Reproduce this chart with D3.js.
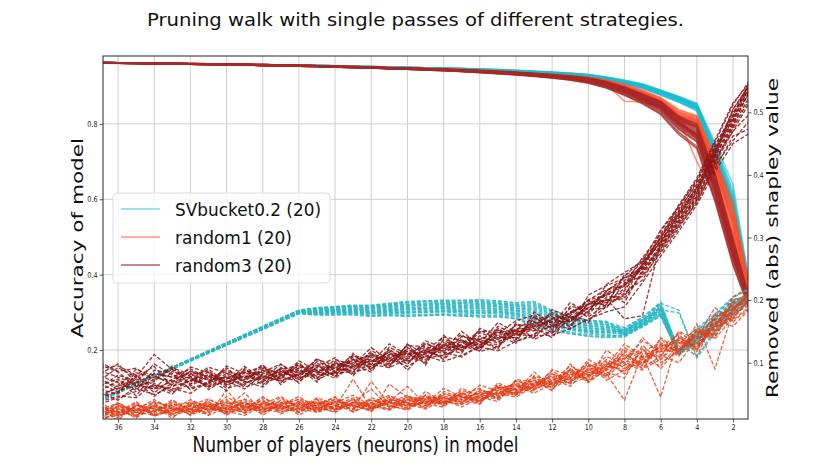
<!DOCTYPE html>
<html>
<head>
<meta charset="utf-8">
<script src="https://cdn.jsdelivr.net/npm/d3@7"></script>
<style>
  body { margin: 0; background: #fff; }
  text { font-family: "DejaVu Sans", sans-serif; }
</style>
</head>
<body>
<svg id="chart" width="831" height="472"></svg>
<script>
// number of players left in the model at each step
var xsRandom = [37,36,35,34,33,32,31,30,29,28,27,26,25,24,23,22,21,20,19,18,17,16,15,14,13,12,11,10,9,8,7,6,5,4,3,2,1];
var xsBucket = [37,26,25,24,23,22,21,20,19,18,17,16,15,14,13,12,11,10,9,8,7,6,5,4,3,2,1];

var xTicks = [36,34,32,30,28,26,24,22,20,18,16,14,12,10,8,6,4,2];
var accTicks = [0.2,0.4,0.6,0.8];
var svTicks = [0.1,0.2,0.3,0.4,0.5];

var legendLabels = ["SVbucket0.2 (20)", "random1 (20)", "random3 (20)"];

// accuracy of model, SVbucket0.2 runs (x = xsBucket)
var bucketAcc = [
  [.963,.955,.954,.953,.952,.951,.950,.949,.948,.947,.946,.944,.942,.940,.938,.935,.932,.928,.921,.911,.901,.884,.866,.846,.725,.590,.335],
  [.962,.955,.954,.953,.952,.951,.950,.949,.948,.946,.945,.943,.941,.939,.936,.933,.930,.926,.918,.908,.897,.880,.861,.840,.712,.570,.328],
  [.963,.956,.955,.954,.953,.952,.951,.950,.949,.948,.947,.945,.943,.941,.939,.937,.934,.930,.923,.914,.904,.888,.870,.851,.738,.610,.342],
  [.963,.955,.954,.953,.952,.951,.950,.949,.947,.946,.945,.943,.941,.939,.937,.934,.931,.927,.920,.910,.899,.882,.864,.843,.718,.580,.332],
  [.962,.955,.954,.953,.952,.950,.949,.948,.947,.946,.944,.942,.940,.938,.936,.933,.929,.925,.917,.906,.895,.877,.858,.836,.705,.545,.322],
  [.963,.956,.955,.954,.953,.952,.951,.950,.949,.948,.947,.946,.944,.942,.940,.937,.934,.931,.924,.915,.905,.889,.872,.853,.745,.625,.348],
  [.963,.955,.954,.953,.952,.951,.950,.949,.948,.947,.946,.944,.942,.940,.938,.935,.932,.928,.921,.912,.902,.885,.867,.848,.728,.595,.336],
  [.962,.955,.954,.953,.951,.950,.949,.948,.947,.946,.945,.943,.941,.939,.937,.934,.930,.926,.919,.909,.898,.881,.862,.841,.715,.565,.327],
  [.963,.956,.955,.954,.953,.952,.951,.950,.949,.948,.947,.945,.943,.941,.939,.936,.933,.929,.922,.913,.903,.887,.869,.850,.735,.605,.340],
  [.963,.955,.954,.953,.952,.951,.950,.949,.948,.947,.945,.943,.941,.939,.937,.934,.931,.927,.920,.910,.900,.883,.865,.845,.722,.585,.333],
  [.962,.955,.954,.952,.951,.950,.949,.948,.947,.945,.944,.942,.940,.938,.935,.932,.929,.924,.916,.905,.894,.876,.857,.834,.702,.540,.320],
  [.963,.956,.955,.954,.953,.952,.951,.950,.949,.948,.947,.945,.944,.942,.939,.937,.934,.930,.923,.914,.904,.888,.871,.852,.742,.618,.345],
  [.963,.955,.954,.953,.952,.951,.950,.949,.948,.947,.946,.944,.942,.940,.937,.935,.931,.928,.921,.911,.901,.884,.866,.847,.726,.592,.335],
  [.962,.955,.954,.953,.952,.951,.949,.948,.947,.946,.945,.943,.941,.939,.936,.933,.930,.926,.918,.908,.897,.880,.860,.839,.710,.560,.325],
  [.963,.956,.955,.954,.953,.952,.951,.950,.949,.948,.947,.946,.944,.942,.940,.938,.935,.931,.924,.916,.906,.890,.873,.855,.750,.640,.352],
  [.963,.955,.954,.953,.952,.951,.950,.949,.948,.947,.946,.944,.942,.940,.938,.935,.932,.928,.920,.911,.901,.884,.865,.846,.724,.588,.334],
  [.962,.955,.954,.953,.952,.950,.949,.948,.947,.946,.944,.942,.940,.938,.936,.933,.929,.925,.917,.907,.896,.878,.859,.838,.708,.555,.324],
  [.963,.956,.955,.954,.953,.952,.951,.950,.949,.948,.947,.945,.943,.941,.939,.936,.933,.930,.923,.913,.903,.887,.869,.850,.733,.602,.339],
  [.963,.955,.954,.953,.952,.951,.950,.949,.948,.947,.946,.944,.942,.940,.938,.935,.932,.928,.921,.912,.902,.885,.867,.848,.730,.598,.337],
  [.962,.955,.954,.953,.952,.951,.950,.949,.948,.946,.945,.943,.941,.939,.937,.934,.931,.927,.919,.909,.899,.882,.863,.842,.716,.575,.330]
];

// removed (abs) shapley value, SVbucket0.2 runs (x = xsBucket)
var bucketSv = [
  [.039,.178,.176,.176,.176,.174,.175,.174,.175,.176,.174,.173,.173,.170,.158,.150,.146,.142,.140,.141,.158,.178,.114,.135,.160,.182,.212],
  [.039,.179,.177,.177,.178,.176,.177,.176,.177,.178,.177,.176,.176,.173,.162,.153,.149,.145,.143,.144,.160,.190,.118,.146,.172,.198,.195],
  [.040,.179,.178,.179,.179,.178,.179,.179,.180,.181,.179,.179,.178,.175,.166,.157,.152,.147,.145,.142,.157,.174,.113,.130,.150,.176,.208],
  [.040,.180,.179,.180,.180,.179,.180,.180,.181,.182,.181,.180,.180,.177,.168,.159,.153,.149,.147,.150,.166,.192,.117,.150,.176,.204,.218],
  [.040,.180,.180,.180,.181,.179,.181,.181,.182,.183,.182,.181,.181,.178,.170,.160,.154,.150,.148,.146,.162,.183,.115,.138,.158,.186,.200],
  [.040,.180,.180,.181,.182,.180,.182,.182,.183,.184,.183,.183,.182,.179,.172,.162,.156,.151,.149,.152,.168,.196,.119,.142,.166,.195,.210],
  [.040,.180,.181,.182,.182,.181,.183,.184,.185,.186,.184,.184,.183,.180,.174,.164,.157,.152,.150,.145,.161,.180,.114,.133,.155,.180,.204],
  [.040,.181,.181,.182,.183,.182,.184,.185,.186,.187,.186,.186,.185,.182,.176,.165,.159,.154,.152,.149,.165,.186,.116,.144,.168,.192,.214],
  [.040,.181,.182,.183,.184,.183,.185,.186,.187,.188,.187,.187,.186,.183,.178,.167,.160,.155,.153,.147,.163,.188,.116,.140,.162,.190,.206],
  [.040,.181,.183,.184,.185,.184,.186,.187,.188,.189,.188,.188,.187,.184,.180,.169,.161,.156,.154,.151,.168,.185,.117,.147,.170,.200,.198],
  [.040,.182,.183,.184,.186,.185,.187,.188,.189,.190,.190,.190,.189,.186,.182,.170,.163,.158,.156,.148,.164,.182,.115,.136,.157,.184,.216],
  [.041,.182,.184,.185,.186,.186,.188,.190,.191,.192,.191,.191,.190,.187,.184,.172,.164,.159,.157,.153,.170,.194,.118,.152,.175,.202,.203],
  [.041,.182,.184,.186,.187,.187,.189,.191,.192,.193,.192,.193,.191,.188,.186,.174,.166,.160,.158,.144,.160,.176,.114,.132,.154,.178,.192],
  [.041,.182,.185,.186,.188,.188,.190,.192,.193,.194,.194,.194,.193,.190,.188,.176,.167,.162,.160,.150,.167,.190,.117,.145,.169,.196,.211],
  [.041,.183,.186,.187,.189,.188,.191,.193,.194,.195,.195,.195,.194,.191,.190,.177,.168,.163,.161,.155,.172,.197,.120,.155,.178,.205,.220],
  [.041,.183,.186,.188,.190,.189,.192,.194,.195,.196,.196,.197,.195,.192,.192,.179,.170,.164,.162,.146,.162,.179,.113,.137,.160,.188,.202],
  [.041,.183,.187,.189,.190,.190,.193,.196,.197,.198,.197,.198,.196,.193,.194,.181,.171,.166,.164,.152,.169,.187,.116,.142,.164,.193,.209],
  [.041,.184,.187,.189,.191,.191,.194,.197,.198,.199,.199,.199,.198,.195,.196,.182,.173,.167,.165,.156,.173,.195,.184,.107,.148,.183,.207],
  [.041,.184,.188,.190,.192,.192,.195,.198,.199,.200,.200,.201,.199,.196,.198,.184,.174,.168,.166,.149,.166,.184,.180,.110,.152,.181,.199],
  [.039,.179,.177,.178,.177,.175,.176,.175,.176,.177,.175,.175,.174,.171,.160,.152,.147,.143,.141,.143,.159,.176,.112,.139,.163,.189,.213]
];

// accuracy of model, random1 runs (x = xsRandom)
var random1Acc = [
  [.963,.962,.962,.961,.960,.960,.959,.958,.957,.957,.956,.955,.954,.953,.952,.950,.949,.948,.946,.945,.943,.941,.939,.936,.933,.930,.927,.922,.913,.901,.884,.862,.828,.812,.690,.540,.330],
  [.961,.961,.960,.959,.959,.958,.957,.957,.956,.955,.954,.953,.952,.951,.950,.949,.947,.946,.944,.943,.941,.938,.936,.933,.929,.925,.921,.915,.903,.889,.870,.848,.805,.795,.660,.500,.310],
  [.962,.962,.961,.960,.960,.959,.959,.958,.957,.956,.955,.955,.954,.953,.951,.950,.949,.947,.946,.944,.942,.940,.938,.935,.931,.928,.924,.918,.908,.895,.878,.855,.818,.800,.700,.560,.335],
  [.962,.961,.960,.960,.959,.958,.958,.957,.956,.955,.954,.953,.952,.951,.950,.948,.947,.945,.944,.942,.940,.938,.935,.932,.929,.926,.920,.914,.905,.860,.858,.845,.810,.790,.650,.480,.300],
  [.963,.962,.961,.961,.960,.959,.958,.958,.957,.956,.956,.955,.954,.953,.952,.951,.949,.948,.947,.945,.943,.941,.939,.937,.934,.931,.927,.923,.914,.902,.886,.866,.832,.815,.705,.585,.340],
  [.962,.961,.961,.960,.959,.959,.958,.957,.956,.955,.955,.954,.953,.951,.950,.949,.947,.946,.944,.943,.941,.939,.936,.933,.930,.926,.922,.916,.906,.892,.874,.850,.812,.700,.610,.470,.305],
  [.961,.960,.960,.959,.958,.958,.957,.956,.955,.955,.954,.953,.952,.951,.949,.948,.946,.945,.943,.941,.939,.937,.934,.931,.928,.924,.919,.913,.902,.888,.869,.845,.808,.798,.670,.510,.315],
  [.962,.962,.961,.961,.960,.959,.959,.958,.957,.957,.956,.955,.954,.953,.952,.951,.950,.948,.947,.945,.944,.942,.940,.937,.934,.931,.928,.924,.916,.905,.890,.870,.838,.822,.715,.575,.338],
  [.962,.961,.961,.960,.959,.959,.958,.957,.956,.956,.955,.954,.953,.952,.950,.949,.948,.946,.945,.943,.941,.939,.937,.934,.931,.927,.923,.918,.909,.896,.878,.856,.822,.806,.685,.530,.322],
  [.963,.962,.962,.961,.960,.960,.959,.958,.958,.957,.956,.955,.954,.953,.952,.950,.949,.948,.946,.945,.943,.941,.938,.936,.933,.929,.925,.920,.911,.898,.882,.860,.825,.808,.692,.545,.328],
  [.961,.961,.960,.960,.959,.958,.957,.957,.956,.955,.954,.953,.952,.951,.950,.948,.947,.945,.944,.942,.940,.937,.935,.932,.928,.924,.920,.914,.904,.890,.872,.849,.815,.801,.665,.505,.312],
  [.962,.962,.961,.960,.960,.959,.958,.958,.957,.956,.955,.954,.953,.952,.951,.950,.948,.947,.945,.944,.942,.940,.937,.934,.931,.928,.924,.919,.910,.897,.881,.859,.823,.810,.695,.550,.325],
  [.962,.961,.961,.960,.959,.958,.958,.957,.956,.955,.955,.954,.952,.951,.950,.949,.947,.946,.944,.943,.941,.938,.936,.933,.930,.926,.922,.917,.907,.893,.876,.853,.814,.760,.640,.490,.308],
  [.963,.962,.961,.961,.960,.960,.959,.958,.957,.956,.956,.955,.954,.953,.951,.950,.949,.947,.946,.944,.943,.941,.939,.936,.932,.929,.926,.921,.912,.900,.884,.864,.830,.818,.700,.565,.333],
  [.962,.961,.960,.960,.959,.958,.957,.957,.956,.955,.954,.953,.952,.951,.949,.948,.946,.945,.943,.941,.939,.936,.933,.930,.927,.923,.918,.911,.900,.886,.868,.846,.806,.795,.660,.495,.310],
  [.962,.962,.961,.960,.960,.959,.958,.958,.957,.956,.955,.955,.954,.952,.951,.950,.948,.947,.946,.944,.942,.940,.938,.935,.932,.929,.925,.920,.911,.899,.883,.861,.826,.811,.688,.535,.326],
  [.961,.961,.960,.959,.959,.958,.957,.956,.956,.955,.954,.953,.952,.950,.949,.948,.946,.945,.943,.942,.940,.938,.935,.932,.929,.925,.921,.915,.905,.891,.873,.851,.816,.803,.675,.515,.318],
  [.963,.962,.962,.961,.960,.960,.959,.958,.958,.957,.956,.955,.954,.953,.952,.951,.949,.948,.947,.945,.944,.942,.939,.937,.934,.931,.927,.922,.914,.903,.887,.868,.835,.820,.710,.590,.345],
  [.962,.961,.961,.960,.959,.959,.958,.957,.956,.955,.955,.954,.953,.952,.950,.949,.948,.946,.945,.943,.941,.939,.936,.934,.930,.927,.923,.917,.907,.894,.877,.854,.819,.804,.682,.525,.320],
  [.962,.962,.961,.960,.960,.959,.958,.957,.957,.956,.955,.954,.953,.952,.951,.950,.948,.947,.945,.944,.942,.940,.937,.935,.931,.928,.924,.919,.909,.896,.879,.857,.821,.807,.688,.540,.322]
];

// removed (abs) shapley value, random1 runs (x = xsRandom)
var random1Sv = [
  [.016,.028,.011,.034,.019,.026,.038,.016,.031,.024,.036,.022,.030,.046,.021,.034,.041,.026,.048,.034,.047,.039,.063,.048,.072,.065,.090,.072,.098,.085,.120,.105,.140,.125,.165,.170,.205],
  [.031,.014,.026,.021,.036,.016,.028,.041,.019,.034,.026,.038,.024,.031,.044,.028,.036,.048,.032,.044,.037,.055,.051,.065,.059,.082,.075,.095,.088,.112,.100,.130,.118,.150,.140,.190,.198],
  [.008,.021,.016,.031,.011,.036,.024,.028,.052,.021,.031,.026,.041,.024,.036,.058,.028,.044,.038,.037,.051,.044,.043,.061,.075,.067,.082,.078,.105,.092,.098,.122,.135,.118,.175,.185,.212],
  [.024,.036,.021,.016,.028,.022,.034,.021,.026,.041,.018,.032,.036,.028,.074,.026,.038,.031,.044,.039,.033,.049,.058,.051,.067,.077,.068,.090,.082,.040,.115,.110,.148,.132,.150,.178,.195],
  [.011,.016,.031,.026,.021,.034,.016,.056,.024,.028,.044,.026,.021,.038,.031,.024,.046,.036,.028,.054,.044,.037,.055,.068,.057,.069,.095,.080,.090,.120,.105,.095,.130,.155,.145,.200,.208],
  [.036,.021,.024,.041,.026,.018,.031,.026,.038,.016,.034,.041,.028,.022,.036,.034,.026,.041,.046,.031,.059,.047,.045,.053,.085,.062,.078,.100,.076,.105,.135,.118,.122,.140,.188,.165,.190],
  [.018,.031,.014,.024,.038,.026,.021,.046,.028,.036,.022,.026,.044,.034,.026,.041,.031,.026,.041,.047,.039,.034,.065,.053,.063,.087,.070,.085,.110,.098,.088,.138,.112,.162,.090,.182,.215],
  [.026,.008,.034,.016,.024,.041,.028,.022,.016,.031,.038,.016,.032,.041,.028,.036,.048,.034,.026,.041,.049,.059,.041,.073,.069,.057,.088,.070,.095,.130,.110,.125,.145,.120,.160,.195,.200],
  [.014,.026,.021,.036,.031,.016,.041,.031,.024,.046,.026,.034,.021,.028,.041,.022,.066,.044,.036,.034,.044,.051,.051,.045,.062,.075,.062,.092,.085,.075,.128,.100,.118,.145,.170,.158,.188],
  [.028,.018,.036,.014,.026,.031,.024,.034,.041,.021,.032,.046,.026,.036,.024,.044,.036,.028,.054,.037,.034,.047,.061,.057,.055,.089,.080,.074,.120,.100,.092,.110,.150,.138,.155,.205,.222],
  [.006,.024,.028,.018,.034,.026,.016,.028,.036,.026,.021,.031,.038,.026,.034,.028,.041,.036,.031,.051,.041,.045,.038,.071,.065,.062,.090,.085,.080,.108,.122,.090,.126,.130,.178,.172,.202],
  [.021,.034,.016,.028,.016,.038,.031,.018,.032,.038,.028,.021,.034,.044,.031,.026,.038,.062,.034,.029,.053,.039,.053,.048,.079,.069,.068,.105,.090,.115,.095,.140,.120,.152,.142,.185,.210],
  [.034,.016,.022,.031,.024,.030,.036,.026,.021,.034,.046,.028,.026,.036,.048,.031,.024,.038,.044,.044,.035,.057,.048,.063,.057,.072,.085,.080,.100,.095,.140,.112,.100,.138,.162,.192,.196],
  [.012,.030,.026,.021,.041,.021,.026,.038,.031,.019,.036,.034,.022,.031,.026,.070,.034,.042,.028,.049,.047,.034,.068,.055,.067,.065,.076,.098,.072,.088,.105,.125,.138,.128,.148,.175,.218],
  [.022,.012,.032,.026,.018,.028,.034,.024,.036,.028,.024,.038,.031,.020,.038,.032,.044,.030,.038,.037,.055,.049,.045,.059,.072,.055,.098,.070,.088,.102,.098,.128,.110,.146,.158,.168,.192],
  [.026,.022,.014,.038,.028,.024,.020,.032,.026,.044,.030,.024,.036,.032,.022,.036,.030,.046,.041,.035,.041,.064,.055,.051,.065,.079,.072,.088,.078,.118,.090,.105,.132,.110,.172,.188,.206],
  [.008,.032,.024,.022,.032,.036,.026,.020,.042,.030,.026,.036,.028,.038,.032,.022,.042,.034,.048,.041,.029,.044,.059,.065,.051,.067,.080,.094,.102,.082,.112,.045,.142,.122,.168,.180,.199],
  [.030,.020,.038,.016,.022,.032,.042,.028,.020,.036,.032,.020,.042,.026,.036,.030,.026,.040,.034,.059,.045,.041,.051,.057,.077,.059,.074,.082,.096,.108,.100,.118,.128,.142,.152,.196,.214],
  [.016,.036,.020,.030,.026,.020,.032,.036,.028,.022,.040,.030,.024,.042,.030,.040,.032,.024,.042,.033,.051,.037,.061,.049,.061,.083,.066,.078,.094,.090,.118,.132,.116,.150,.138,.172,.204],
  [.024,.016,.030,.036,.014,.026,.030,.022,.034,.026,.030,.042,.034,.024,.042,.026,.036,.032,.036,.045,.037,.053,.047,.071,.063,.071,.088,.068,.090,.124,.108,.120,.136,.124,.160,.184,.218]
];

// accuracy of model, random3 runs (x = xsRandom)
var random3Acc = [
  [.962,.961,.961,.960,.960,.959,.958,.957,.957,.956,.955,.954,.953,.952,.951,.950,.948,.947,.946,.944,.942,.940,.938,.935,.932,.928,.923,.917,.906,.890,.868,.848,.804,.775,.640,.465,.312],
  [.963,.962,.961,.961,.960,.959,.959,.958,.957,.956,.956,.955,.954,.953,.952,.950,.949,.948,.946,.945,.943,.941,.939,.936,.933,.930,.925,.920,.910,.895,.875,.856,.815,.790,.660,.485,.318],
  [.961,.961,.960,.959,.959,.958,.957,.956,.956,.955,.954,.953,.952,.951,.949,.948,.946,.945,.943,.941,.939,.937,.934,.931,.927,.923,.918,.911,.899,.880,.858,.832,.785,.752,.610,.440,.302],
  [.962,.962,.961,.960,.960,.959,.958,.958,.957,.956,.955,.954,.953,.952,.951,.950,.948,.947,.945,.944,.942,.940,.937,.934,.931,.927,.922,.916,.905,.888,.866,.845,.800,.770,.635,.460,.310],
  [.962,.961,.961,.960,.959,.959,.958,.957,.956,.956,.955,.954,.953,.951,.950,.949,.947,.946,.944,.943,.941,.938,.936,.933,.929,.925,.920,.913,.902,.884,.862,.838,.792,.760,.622,.450,.306],
  [.963,.962,.962,.961,.960,.960,.959,.958,.958,.957,.956,.955,.954,.953,.952,.951,.949,.948,.947,.945,.944,.942,.940,.937,.934,.931,.927,.922,.912,.898,.879,.860,.820,.800,.670,.495,.320],
  [.962,.961,.960,.960,.959,.958,.958,.957,.956,.955,.954,.953,.952,.951,.950,.949,.947,.946,.944,.942,.940,.938,.935,.932,.929,.925,.921,.915,.904,.887,.864,.842,.798,.765,.630,.455,.308],
  [.962,.962,.961,.960,.960,.959,.958,.957,.957,.956,.955,.954,.953,.952,.951,.950,.949,.947,.946,.944,.943,.941,.938,.935,.932,.928,.924,.918,.908,.892,.871,.851,.810,.782,.648,.472,.314],
  [.961,.961,.960,.960,.959,.958,.957,.957,.956,.955,.954,.953,.952,.951,.950,.948,.947,.945,.944,.942,.940,.937,.935,.931,.928,.924,.919,.912,.900,.882,.860,.835,.788,.755,.615,.445,.304],
  [.963,.962,.961,.961,.960,.959,.959,.958,.957,.957,.956,.955,.954,.953,.951,.950,.949,.948,.946,.945,.943,.941,.938,.936,.933,.929,.925,.919,.909,.894,.873,.853,.812,.786,.652,.478,.316],
  [.962,.961,.961,.960,.959,.959,.958,.957,.956,.955,.955,.954,.953,.952,.950,.949,.948,.946,.945,.943,.941,.939,.936,.933,.930,.926,.921,.914,.903,.885,.863,.840,.795,.762,.625,.452,.307],
  [.962,.962,.961,.960,.960,.959,.958,.958,.957,.956,.955,.954,.953,.952,.951,.950,.948,.947,.945,.944,.942,.940,.937,.935,.931,.928,.923,.917,.907,.891,.870,.849,.806,.778,.644,.468,.312],
  [.962,.961,.960,.960,.959,.958,.957,.957,.956,.955,.954,.953,.952,.951,.949,.948,.946,.945,.943,.942,.940,.937,.934,.931,.927,.922,.917,.909,.896,.877,.855,.828,.778,.740,.600,.430,.298],
  [.963,.962,.962,.961,.960,.960,.959,.958,.957,.957,.956,.955,.954,.953,.952,.951,.949,.948,.946,.945,.943,.941,.939,.936,.933,.930,.926,.921,.911,.897,.877,.858,.818,.795,.665,.490,.319],
  [.962,.961,.961,.960,.959,.958,.958,.957,.956,.955,.955,.954,.953,.951,.950,.949,.947,.946,.944,.943,.941,.939,.936,.933,.930,.926,.922,.915,.904,.886,.865,.843,.799,.768,.632,.458,.309],
  [.962,.962,.961,.960,.960,.959,.958,.957,.957,.956,.955,.954,.953,.952,.951,.950,.948,.947,.946,.944,.942,.940,.938,.935,.932,.928,.924,.918,.907,.890,.869,.847,.803,.772,.638,.462,.311],
  [.961,.961,.960,.959,.959,.958,.957,.956,.956,.955,.954,.953,.952,.950,.949,.948,.946,.945,.943,.941,.939,.936,.933,.930,.926,.922,.916,.908,.895,.876,.853,.825,.772,.735,.595,.425,.296],
  [.963,.962,.961,.961,.960,.959,.959,.958,.957,.956,.956,.955,.954,.953,.951,.950,.949,.947,.946,.944,.943,.941,.938,.936,.933,.929,.925,.920,.910,.896,.876,.857,.816,.792,.662,.488,.317],
  [.962,.961,.961,.960,.959,.959,.958,.957,.956,.955,.955,.954,.953,.952,.950,.949,.947,.946,.945,.943,.941,.939,.936,.934,.930,.926,.921,.915,.904,.887,.866,.844,.801,.769,.634,.461,.310],
  [.962,.962,.961,.960,.960,.959,.958,.957,.957,.956,.955,.954,.953,.952,.951,.950,.948,.947,.945,.944,.942,.940,.937,.934,.931,.927,.923,.917,.906,.889,.867,.846,.802,.773,.642,.470,.313]
];

// removed (abs) shapley value, random3 runs (x = xsRandom)
var random3Sv = [
  [.049,.059,.069,.098,.080,.075,.062,.070,.079,.073,.089,.096,.084,.099,.091,.112,.102,.118,.124,.114,.135,.125,.143,.152,.158,.165,.180,.193,.208,.222,.258,.300,.340,.380,.440,.495,.550],
  [.087,.077,.065,.058,.070,.086,.078,.065,.073,.088,.077,.070,.090,.081,.100,.094,.113,.103,.109,.129,.120,.140,.134,.145,.166,.147,.169,.200,.190,.209,.240,.285,.322,.365,.425,.470,.520],
  [.034,.044,.054,.064,.059,.051,.070,.077,.061,.070,.082,.091,.099,.084,.105,.097,.092,.106,.117,.111,.124,.137,.128,.152,.140,.170,.160,.182,.215,.231,.262,.292,.338,.372,.430,.505,.548],
  [.072,.092,.077,.113,.089,.066,.081,.074,.088,.079,.071,.081,.105,.096,.085,.119,.107,.121,.105,.126,.145,.122,.155,.137,.173,.155,.187,.173,.193,.241,.248,.310,.348,.392,.452,.512,.555],
  [.057,.050,.074,.061,.050,.078,.060,.080,.070,.061,.086,.076,.081,.105,.097,.085,.122,.097,.132,.117,.109,.128,.149,.134,.146,.159,.169,.188,.200,.202,.245,.278,.318,.355,.415,.455,.490],
  [.097,.085,.062,.073,.092,.081,.072,.089,.076,.084,.074,.103,.087,.091,.112,.104,.095,.129,.114,.132,.124,.148,.137,.160,.161,.177,.165,.193,.211,.225,.268,.305,.345,.385,.438,.488,.545],
  [.042,.065,.059,.049,.062,.071,.085,.062,.084,.094,.068,.088,.075,.093,.082,.100,.117,.088,.120,.107,.133,.118,.125,.149,.155,.140,.175,.167,.190,.212,.232,.282,.325,.362,.420,.478,.530],
  [.076,.056,.084,.076,.071,.060,.066,.092,.067,.076,.097,.082,.096,.078,.094,.109,.098,.112,.129,.123,.115,.155,.143,.131,.181,.162,.154,.208,.223,.235,.252,.295,.335,.378,.432,.485,.548],
  [.064,.074,.047,.083,.077,.090,.075,.055,.091,.067,.077,.100,.072,.087,.106,.091,.110,.115,.099,.138,.127,.119,.158,.145,.143,.185,.172,.164,.205,.205,.260,.290,.330,.368,.445,.500,.540],
  [.052,.040,.062,.070,.095,.063,.078,.071,.058,.082,.089,.073,.093,.108,.079,.115,.095,.124,.108,.111,.142,.134,.122,.164,.137,.150,.190,.185,.187,.228,.238,.275,.315,.358,.410,.462,.475],
  [.091,.095,.080,.064,.056,.072,.093,.083,.070,.091,.083,.094,.078,.084,.115,.088,.125,.109,.114,.120,.150,.128,.140,.140,.170,.174,.157,.197,.199,.218,.255,.302,.342,.388,.448,.495,.555],
  [.046,.053,.080,.052,.074,.084,.057,.074,.085,.064,.092,.067,.102,.090,.088,.106,.092,.130,.096,.144,.118,.143,.131,.155,.152,.147,.181,.176,.211,.196,.248,.288,.328,.372,.428,.480,.540],
  [.079,.068,.056,.088,.083,.057,.069,.086,.076,.097,.065,.085,.087,.075,.097,.124,.104,.100,.123,.105,.130,.149,.152,.137,.164,.165,.166,.194,.193,.238,.265,.298,.352,.395,.455,.515,.550],
  [.061,.080,.071,.046,.068,.093,.084,.068,.094,.073,.080,.091,.069,.102,.091,.094,.113,.118,.102,.129,.121,.131,.164,.149,.151,.170,.178,.200,.217,.223,.250,.282,.320,.360,.418,.470,.500],
  [.101,.086,.091,.072,.089,.078,.065,.095,.082,.085,.098,.076,.107,.086,.109,.100,.130,.112,.119,.141,.136,.122,.146,.167,.176,.159,.196,.179,.225,.244,.262,.312,.350,.390,.442,.492,.535],
  [.037,.047,.044,.067,.053,.066,.081,.059,.067,.079,.071,.082,.081,.084,.085,.091,.107,.094,.111,.102,.112,.125,.119,.134,.143,.144,.154,.170,.181,.189,.228,.270,.310,.352,.405,.450,.468],
  [.072,.062,.089,.079,.065,.087,.072,.077,.064,.088,.074,.097,.084,.096,.103,.112,.101,.127,.126,.117,.142,.137,.149,.143,.158,.180,.166,.188,.202,.170,.175,.292,.332,.375,.435,.490,.552],
  [.082,.098,.068,.082,.077,.069,.090,.068,.079,.070,.092,.079,.096,.078,.112,.097,.119,.106,.135,.123,.127,.152,.137,.152,.173,.153,.175,.200,.208,.225,.256,.300,.338,.382,.436,.505,.545],
  [.055,.071,.065,.058,.086,.075,.063,.083,.073,.094,.080,.088,.075,.099,.094,.103,.116,.103,.114,.135,.124,.134,.125,.161,.155,.171,.172,.182,.214,.236,.244,.286,.326,.366,.422,.475,.525],
  [.067,.053,.077,.094,.062,.081,.087,.065,.088,.076,.086,.073,.093,.093,.100,.115,.104,.115,.117,.126,.136,.128,.152,.146,.161,.156,.181,.194,.196,.215,.254,.295,.335,.378,.430,.482,.538]
];

var svg = d3.select('#chart');
var M = {l: 103, r: 748, t: 56, b: 419};
var squash = 0.8;   // the reference is horizontally condensed

var x = d3.scaleLinear().domain([36.83, 1.17]).range([M.l, M.r]);
var yAcc = d3.scaleLinear().domain([0.017, 0.98]).range([M.b, M.t]);
var ySv = d3.scaleLinear().domain([0.01, 0.59]).range([M.b, M.t]);

var groups = [
  {xs: xsBucket, acc: bucketAcc, sv: bucketSv, solid: '#17becf', dash: '#2bb7c6', solidOp: 0.55, dashOp: 0.85},
  {xs: xsRandom, acc: random1Acc, sv: random1Sv, solid: '#ff4f2b', dash: '#e23d18', solidOp: 0.6, dashOp: 0.8},
  {xs: xsRandom, acc: random3Acc, sv: random3Sv, solid: '#a82828', dash: '#8b1515', solidOp: 0.75, dashOp: 0.85}
];

svg.append('defs').append('clipPath').attr('id', 'plotclip')
  .append('rect').attr('x', M.l).attr('y', M.t).attr('width', M.r - M.l).attr('height', M.b - M.t);

// grid
var grid = svg.append('g');
grid.selectAll('line.vx').data(xTicks).enter().append('line')
  .attr('x1', function(d){ return x(d); }).attr('x2', function(d){ return x(d); })
  .attr('y1', M.t).attr('y2', M.b)
  .attr('stroke', '#cfcfcf').attr('stroke-width', 1);
grid.selectAll('line.hy').data(accTicks).enter().append('line')
  .attr('x1', M.l).attr('x2', M.r)
  .attr('y1', function(d){ return yAcc(d); }).attr('y2', function(d){ return yAcc(d); })
  .attr('stroke', '#cfcfcf').attr('stroke-width', 1);

var plot = svg.append('g').attr('clip-path', 'url(#plotclip)');

function lineFor(xs, y){
  return d3.line().x(function(d, i){ return x(xs[i]); }).y(function(d){ return y(d); });
}

// accuracy (solid) first, then removed shapley (dashed) on the twin axis
groups.forEach(function(g){
  plot.append('g').selectAll('path').data(g.acc).enter().append('path')
    .attr('d', lineFor(g.xs, yAcc))
    .attr('fill', 'none').attr('stroke', g.solid).attr('stroke-opacity', g.solidOp)
    .attr('stroke-width', 1.6);
});
groups.forEach(function(g){
  plot.append('g').selectAll('path').data(g.sv).enter().append('path')
    .attr('d', lineFor(g.xs, ySv))
    .attr('fill', 'none').attr('stroke', g.dash).attr('stroke-opacity', g.dashOp)
    .attr('stroke-width', 1.3).attr('stroke-dasharray', '4,1.8');
});

// axes
var ax = svg.append('g').attr('transform', 'translate(0,' + M.b + ')')
  .call(d3.axisBottom(x).tickValues(xTicks).tickFormat(d3.format('d')).tickSize(3.5).tickPadding(1.5));
var ayl = svg.append('g').attr('transform', 'translate(' + M.l + ',0)')
  .call(d3.axisLeft(yAcc).tickValues(accTicks).tickFormat(d3.format('.1f')).tickSize(3.5).tickPadding(2));
var ayr = svg.append('g').attr('transform', 'translate(' + M.r + ',0)')
  .call(d3.axisRight(ySv).tickValues(svTicks).tickFormat(d3.format('.1f')).tickSize(3.5).tickPadding(2));
[ax, ayl, ayr].forEach(function(a){
  a.select('.domain').remove();
  a.selectAll('.tick line').attr('stroke', '#333').attr('stroke-width', 0.8);
  a.selectAll('.tick text').attr('font-size', 8).attr('fill', '#222').attr('font-family', 'DejaVu Sans, sans-serif');
});
ax.selectAll('.tick text').attr('transform', 'scale(' + squash + ',1)');
ayl.selectAll('.tick text').attr('x', -5.5 / squash).attr('transform', 'scale(' + squash + ',1)');
ayr.selectAll('.tick text').attr('x', 5.5 / squash).attr('transform', 'scale(' + squash + ',1)');

svg.append('rect').attr('x', M.l).attr('y', M.t).attr('width', M.r - M.l).attr('height', M.b - M.t)
  .attr('fill', 'none').attr('stroke', '#262626').attr('stroke-width', 1);

// title and axis labels
svg.append('text').attr('x', 415.5).attr('y', 25.7).attr('text-anchor', 'middle')
  .attr('font-size', 18.3).attr('fill', '#111')
  .attr('textLength', 537).attr('lengthAdjust', 'spacingAndGlyphs')
  .text('Pruning walk with single passes of different strategies.');

svg.append('text').attr('x', 355.5).attr('y', 451.5).attr('text-anchor', 'middle')
  .attr('font-size', 20.5).attr('fill', '#111')
  .attr('textLength', 326).attr('lengthAdjust', 'spacingAndGlyphs')
  .text('Number of players (neurons) in model');

svg.append('text')
  .attr('transform', 'translate(83,238) scale(' + squash + ',1) rotate(-90)')
  .attr('text-anchor', 'middle').attr('font-size', 20.5).attr('fill', '#111')
  .attr('textLength', 200).attr('lengthAdjust', 'spacingAndGlyphs')
  .text('Accuracy of model');

svg.append('text')
  .attr('transform', 'translate(778,238) scale(' + squash + ',1) rotate(-90)')
  .attr('text-anchor', 'middle').attr('font-size', 20.5).attr('fill', '#111')
  .attr('textLength', 320).attr('lengthAdjust', 'spacingAndGlyphs')
  .text('Removed (abs) shapley value');

// legend
var legendWidths = [146, 117, 117];
var lg = svg.append('g');
lg.append('rect').attr('x', 113).attr('y', 193).attr('width', 217).attr('height', 90).attr('rx', 4)
  .attr('fill', '#fff').attr('fill-opacity', 0.8).attr('stroke', '#dcdcdc').attr('stroke-width', 1);
var rows = lg.selectAll('g.row').data(legendLabels).enter().append('g')
  .attr('transform', function(d, i){ return 'translate(0,' + (209 + i * 28) + ')'; });
rows.append('line').attr('x1', 121).attr('x2', 160).attr('y1', 0).attr('y2', 0)
  .attr('stroke', function(d, i){ return groups[i].solid; })
  .attr('stroke-opacity', function(d, i){ return groups[i].solidOp; })
  .attr('stroke-width', 1.5);
rows.append('text').attr('x', 175).attr('y', 6.7).attr('font-size', 18.3).attr('fill', '#111')
  .attr('textLength', function(d, i){ return legendWidths[i]; }).attr('lengthAdjust', 'spacingAndGlyphs')
  .text(function(d){ return d; });
</script>
</body>
</html>
